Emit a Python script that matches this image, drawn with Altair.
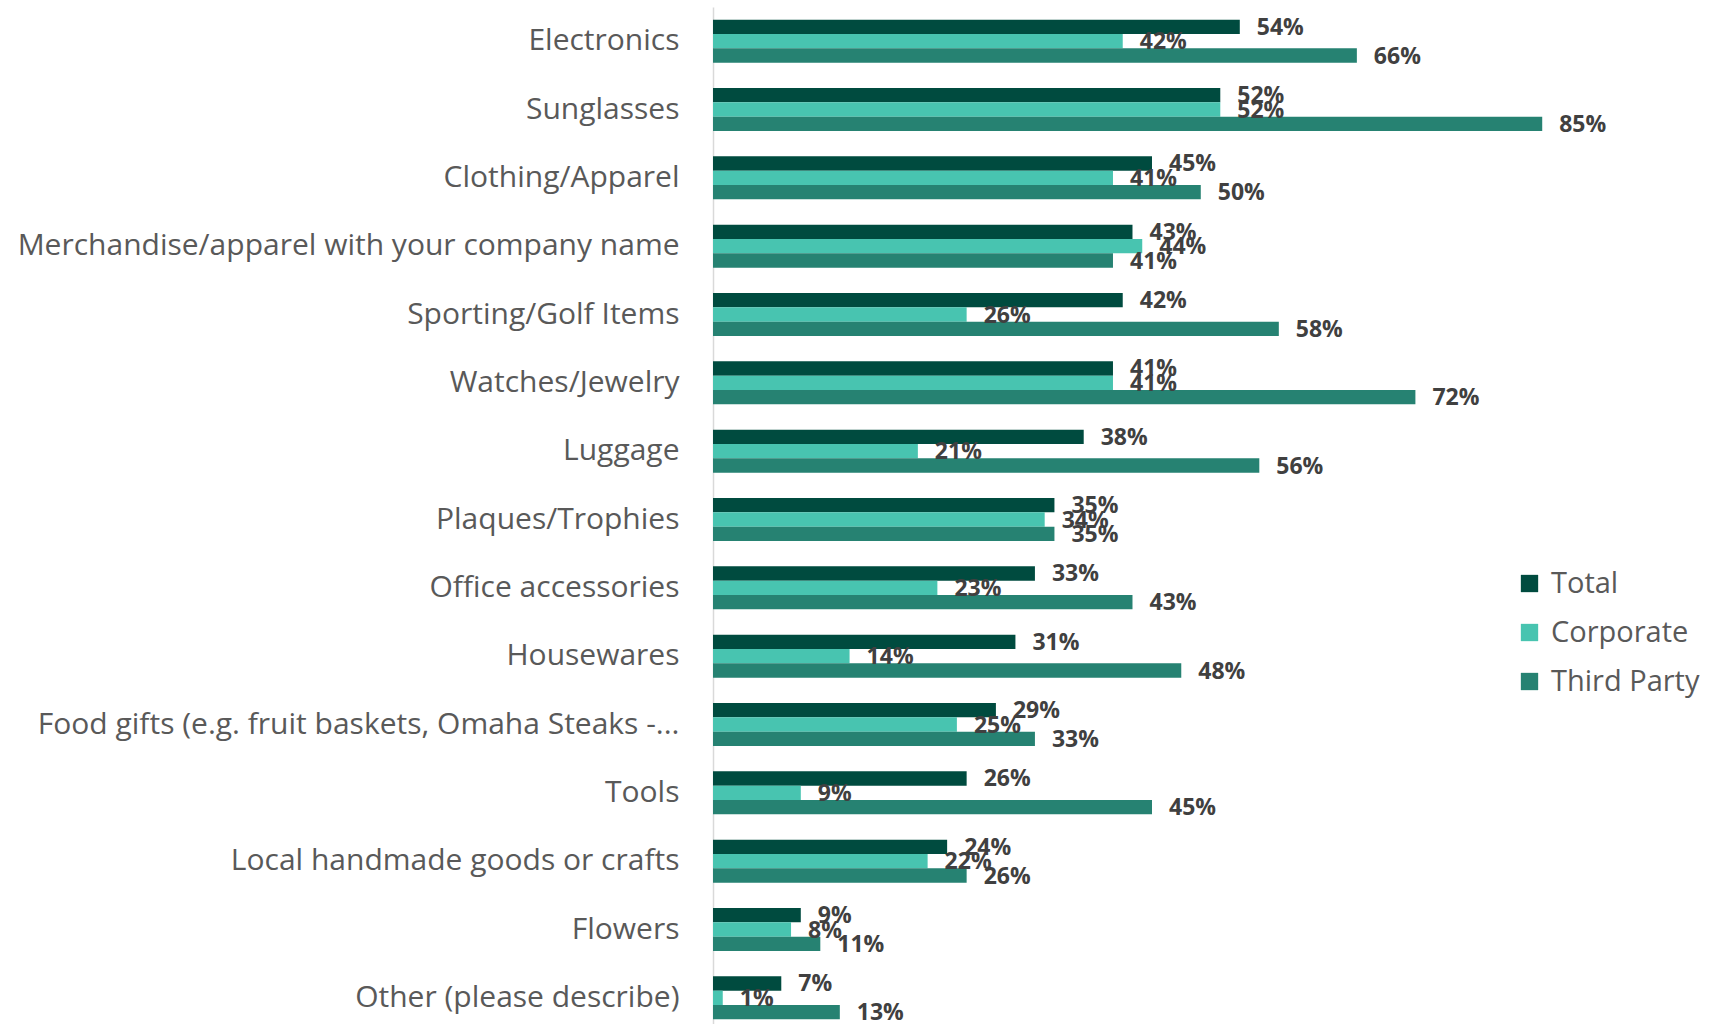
import altair as alt
import pandas as pd

categories = [
    "Electronics",
    "Sunglasses",
    "Clothing/Apparel",
    "Merchandise/apparel with your company name",
    "Sporting/Golf Items",
    "Watches/Jewelry",
    "Luggage",
    "Plaques/Trophies",
    "Office accessories",
    "Housewares",
    "Food gifts (e.g. fruit baskets, Omaha Steaks -...",
    "Tools",
    "Local handmade goods or crafts",
    "Flowers",
    "Other (please describe)",
]
total = [54, 52, 45, 43, 42, 41, 38, 35, 33, 31, 29, 26, 24, 9, 7]
corporate = [42, 52, 41, 44, 26, 41, 21, 34, 23, 14, 25, 9, 22, 8, 1]
third_party = [66, 85, 50, 41, 58, 72, 56, 35, 43, 48, 33, 45, 26, 11, 13]

series = ["Total", "Corporate", "Third Party"]
colors = ["#004B3F", "#48C4B0", "#268272"]

rows = []
for i, c in enumerate(categories):
    for s, vals in zip(series, [total, corporate, third_party]):
        rows.append({"category": c, "series": s, "value": vals[i] / 100})
df = pd.DataFrame(rows)

y = alt.Y(
    "category:N",
    sort=categories,
    scale=alt.Scale(paddingInner=0.37, paddingOuter=0.185),
    axis=alt.Axis(
        title=None,
        ticks=False,
        labelPadding=34,
        labelFontSize=30,
        labelFont="Open Sans",
        labelColor="#595959",
        domainColor="#D9D9D9",
        domainWidth=1.5,
        labelLimit=0,
    ),
)
yoff = alt.YOffset("series:N", sort=series, scale=alt.Scale(paddingInner=0, paddingOuter=0))
x = alt.X("value:Q", scale=alt.Scale(domain=[0, 0.9]), axis=None)

bars = alt.Chart(df).mark_bar().encode(
    x=x,
    y=y,
    yOffset=yoff,
    color=alt.Color(
        "series:N",
        sort=series,
        scale=alt.Scale(domain=series, range=colors),
        legend=alt.Legend(
            title=None,
            orient="none",
            legendX=802,
            legendY=562,
            symbolType="square",
            symbolSize=300,
            symbolStrokeWidth=0,
            labelFontSize=29,
            labelFont="Open Sans",
            labelColor="#595959",
            rowPadding=19,
            labelOffset=7,
            padding=0,
            labelLimit=0,
        ),
    ),
)

labels = alt.Chart(df).mark_text(
    align="left",
    baseline="middle",
    dx=17,
    dy=1,
    font="Open Sans",
    fontWeight="bold",
    fontSize=23,
    color="#404040",
).encode(x=x, y=y, yOffset=yoff, text=alt.Text("value:Q", format=".0%"))

chart = (
    alt.layer(bars, labels)
    .properties(
        width=878,
        height=1025,
        autosize=alt.AutoSizeParams(type="none"),
        padding={"left": 713, "top": 7, "right": 138, "bottom": 0},
        background="white",
    )
    .configure_view(stroke=None)
)

chart.save("out.html", embed_options={"renderer": "svg", "actions": False})
